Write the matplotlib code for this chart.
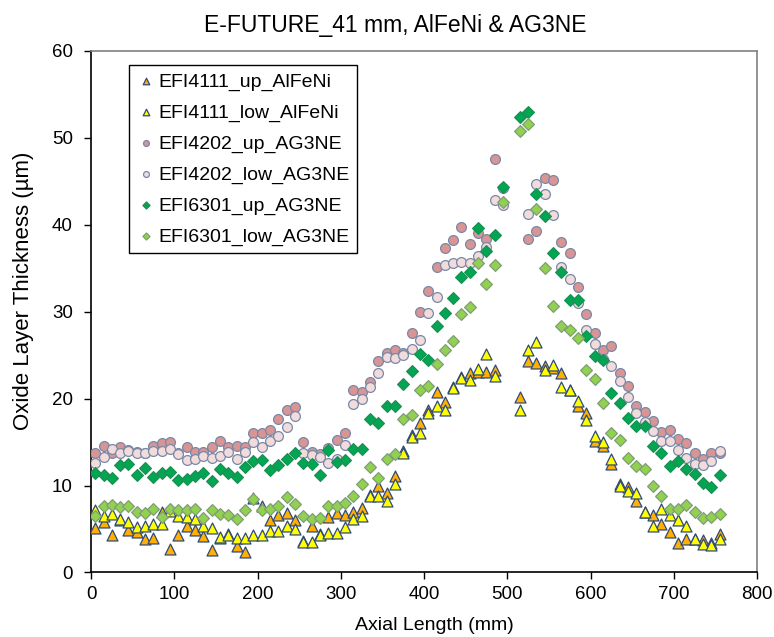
import numpy as np
import matplotlib
matplotlib.use("Agg")
import matplotlib.pyplot as plt

nan = np.nan

axial_mm = [5, 15, 25, 35, 45, 55, 65, 75, 85, 95,
            105, 115, 125, 135, 145, 155, 165, 175, 185, 195,
            205, 215, 225, 235, 245, 255, 265, 275, 285, 295,
            305, 315, 325, 335, 345, 355, 365, 375, 385, 395,
            405, 415, 425, 435, 445, 455, 465, 475, 485, 495,
            505, 515, 525, 535, 545, 555, 565, 575, 585, 595,
            605, 615, 625, 635, 645, 655, 665, 675, 685, 695,
            705, 715, 725, 735, 745, 755]

efi4111_up = [5.1, 5.8, 4.3, 6.0, 4.9, 4.6, 3.9, 4.0, 6.9, 2.7,
              4.3, 5.3, 4.9, 4.2, 2.6, 4.0, 4.4, 3.0, 2.4, 8.6,
              7.7, 6.0, 6.6, 6.8, 6.0, 3.6, 5.4, 4.4, 6.4, 6.8,
              6.6, 7.0, 7.4, 8.9, 10.0, 9.1, 11.1, 14.0, 15.8, 17.2,
              18.7, 20.8, 19.6, 21.3, 22.5, 22.9, 23.1, 23.1, 23.3, nan,
              nan, 20.2, 24.3, 24.1, 23.8, 23.5, 23.0, 21.0, 19.2, 18.3,
              15.1, 14.6, 12.5, 10.2, 9.8, 8.2, 7.0, 6.6, 5.6, 4.7,
              3.4, 3.8, 3.9, 3.7, 3.4, 4.4]

efi4111_low = [7.2, 6.5, 6.7, 6.1, 5.8, 5.2, 5.3, 5.6, 5.6, 7.1,
               6.45, 6.4, 6.2, 5.4, 5.1, 4.1, 4.3, 3.95, 4.0, 4.3,
               4.3, 4.8, 4.8, 5.3, 5.0, 3.5, 3.5, 4.3, 4.5, 4.5,
               5.2, 6.2, 6.5, 8.75, 8.75, 8.2, 10.2, 13.75, 15.6, 16.1,
               18.3, 19.1, 18.7, 21.2, 22.4, 22.2, 23.4, 25.1, 22.6, nan,
               nan, 18.7, 25.6, 26.5, 23.3, 23.9, 21.3, 21.0, 19.7, 17.5,
               15.7, 15.0, 13.1, 10.0, 9.4, 9.1, 7.0, 5.4, 7.3, 6.6,
               6.0, 5.3, 3.8, 3.3, 3.2, 3.8]

efi4202_up = [13.7, 14.6, 13.7, 14.4, 14.1, 13.9, 13.7, 14.5, 14.9, 15.0,
              13.7, 14.4, 13.9, 13.9, 14.4, 15.1, 14.4, 14.5, 14.4, 16.1,
              16.0, 16.4, 17.6, 18.7, 19.0, 15.0, 13.9, 13.6, 14.3, 15.2,
              16.0, 21.0, 20.8, 21.9, 24.3, 25.3, 25.6, 25.2, 27.6, 30.0,
              32.4, 35.1, 37.3, 38.2, 39.7, 37.8, 39.0, 38.4, 47.6, 44.2,
              nan, nan, 38.4, 39.3, 45.4, 45.1, 38.0, 36.7, 32.9, 29.7,
              27.5, 25.6, 26.0, 22.9, 21.5, 19.2, 18.5, 17.4, 16.2, 16.4,
              15.3, 14.9, 13.7, 13.0, 13.7, 13.7]

efi4202_low = [12.6, 13.3, 14.2, 13.7, 14.0, 13.8, 13.8, 14.0, 14.0, 14.2,
               13.6, 12.9, 13.1, 13.4, 13.2, 13.4, 13.9, 13.0, 13.9, 15.0,
               14.4, 15.1, 15.7, 16.7, 18.0, 13.7, 13.5, 13.3, 12.6, 13.1,
               14.7, 19.4, 20.0, 21.3, 22.9, 24.8, 24.7, 25.0, 25.7, 26.8,
               29.9, 31.7, 35.4, 35.6, 35.7, 35.6, 36.4, 37.5, 42.9, 42.3,
               nan, nan, 41.2, 44.7, 43.5, 41.1, 35.2, 33.8, 31.0, 27.9,
               26.3, 24.6, 23.7, 22.0, 20.2, 18.3, 17.3, 16.3, 15.1, 15.1,
               14.1, 13.2, 12.5, 12.4, 12.8, 14.0]

efi6301_up = [11.5, 11.25, 10.9, 12.4, 12.5, 11.25, 12.0, 11.0, 11.4, 11.6,
              10.6, 10.7, 11.1, 11.5, 10.5, 11.9, 11.5, 11.0, 12.1, 12.8,
              12.9, 11.8, 12.4, 13.1, 13.75, 12.6, 12.5, 11.25, 14.05, 12.7,
              12.9, 14.2, 14.2, 17.6, 17.2, 19.2, 19.1, 21.7, 23.2, 25.1,
              24.5, 28.4, 29.9, 31.6, 34.0, 34.6, 39.6, 37.0, 38.8, 44.4,
              nan, 52.4, 53.0, 43.6, 41.0, 36.7, 34.6, 31.3, 31.3, 27.2,
              24.9, 24.5, 20.7, 19.5, 17.8, 16.8, 16.9, 14.5, 13.7, 12.3,
              12.8, 11.9, 11.3, 10.3, 9.8, 11.25]

efi6301_low = [6.45, 7.6, 7.75, 7.5, 7.7, 6.95, 6.85, 7.3, 6.4, 7.3,
               7.2, 7.2, 7.3, 6.3, 7.15, 6.75, 6.65, 6.1, 7.15, 8.4,
               7.15, 7.3, 7.6, 8.7, 7.9, 6.45, 6.2, 6.3, 7.7, 7.6,
               8.0, 8.8, 10.2, 12.1, 10.9, 13.1, 13.6, 17.7, 18.1, 21.0,
               21.4, 24.0, 25.6, 26.6, 29.7, 30.6, 35.6, 33.2, 35.4, 42.6,
               nan, 50.8, 51.6, 41.8, 35.0, 30.7, 28.3, 27.9, 27.0, 23.3,
               22.3, 19.5, 16.0, 15.2, 13.2, 12.25, 11.9, 9.9, 8.8, 7.3,
               7.3, 7.8, 6.9, 6.3, 6.4, 6.75]

series_names = ["EFI4111_up_AlFeNi", "EFI4111_low_AlFeNi", "EFI4202_up_AG3NE",
                "EFI4202_low_AG3NE", "EFI6301_up_AG3NE", "EFI6301_low_AG3NE"]

plt.rcParams['font.family'] = ['Liberation Sans', 'DejaVu Sans']

fig = plt.figure(figsize=(7.74, 6.37), dpi=100)
ax = fig.add_axes([0.1176, 0.1013, 0.8605, 0.8187])

styles = [
    dict(marker='^', s=62, facecolor='#FFB000', edgecolor='#2F4A7A'),
    dict(marker='^', s=62, facecolor='#FFFF00', edgecolor='#2F4A7A'),
    dict(marker='o', s=50, facecolor='#D99594', edgecolor='#7889A8'),
    dict(marker='o', s=50, facecolor='#F2DCDB', edgecolor='#7889A8'),
    dict(marker='D', s=36, facecolor='#00A651', edgecolor='#1E8F55'),
    dict(marker='D', s=36, facecolor='#92D050', edgecolor='#7F9E78'),
]
data = [efi4111_up, efi4111_low, efi4202_up, efi4202_low, efi6301_up, efi6301_low]

for name, vals, st in zip(series_names, data, styles):
    ax.scatter(axial_mm, vals, marker=st['marker'], s=st['s'],
               facecolors=st['facecolor'], edgecolors=st['edgecolor'],
               linewidths=0.9, label=name, zorder=3)

ax.set_xlim(0, 800)
ax.set_ylim(0, 60)
ax.set_xticks([0, 100, 200, 300, 400, 500, 600, 700, 800])
ax.set_yticks([0, 10, 20, 30, 40, 50, 60])
ax.tick_params(axis='both', direction='out', length=5, width=1, labelsize=13.5,
               colors='black')
ax.tick_params(axis='x', pad=5)
ax.tick_params(axis='y', pad=8)
for side in ['top', 'right']:
    ax.spines[side].set_color('#808080')
    ax.spines[side].set_linewidth(1.2)
for side in ['bottom', 'left']:
    ax.spines[side].set_color('black')
    ax.spines[side].set_linewidth(1.2)

ax.set_xlabel("Axial Length (mm)", fontsize=14, labelpad=10)
ax.xaxis.label.set_x(0.516)
ax.set_ylabel("Oxide Layer Thickness (µm)", fontsize=16)
ax.yaxis.set_label_coords(-0.086, 0.54)
ax.set_title("E-FUTURE_41 mm, AlFeNi & AG3NE", fontsize=16.5, pad=14, x=0.457)

leg = ax.legend(loc='upper left', bbox_to_anchor=(0.057, 0.973), borderaxespad=0,
                fontsize=14, frameon=True, fancybox=False, edgecolor='black',
                framealpha=1, handletextpad=0.1, handlelength=1.0,
                labelspacing=0.68, borderpad=0.4, markerscale=0.6)
leg.get_frame().set_linewidth(1.0)

fig.savefig("out.png", dpi=100)
